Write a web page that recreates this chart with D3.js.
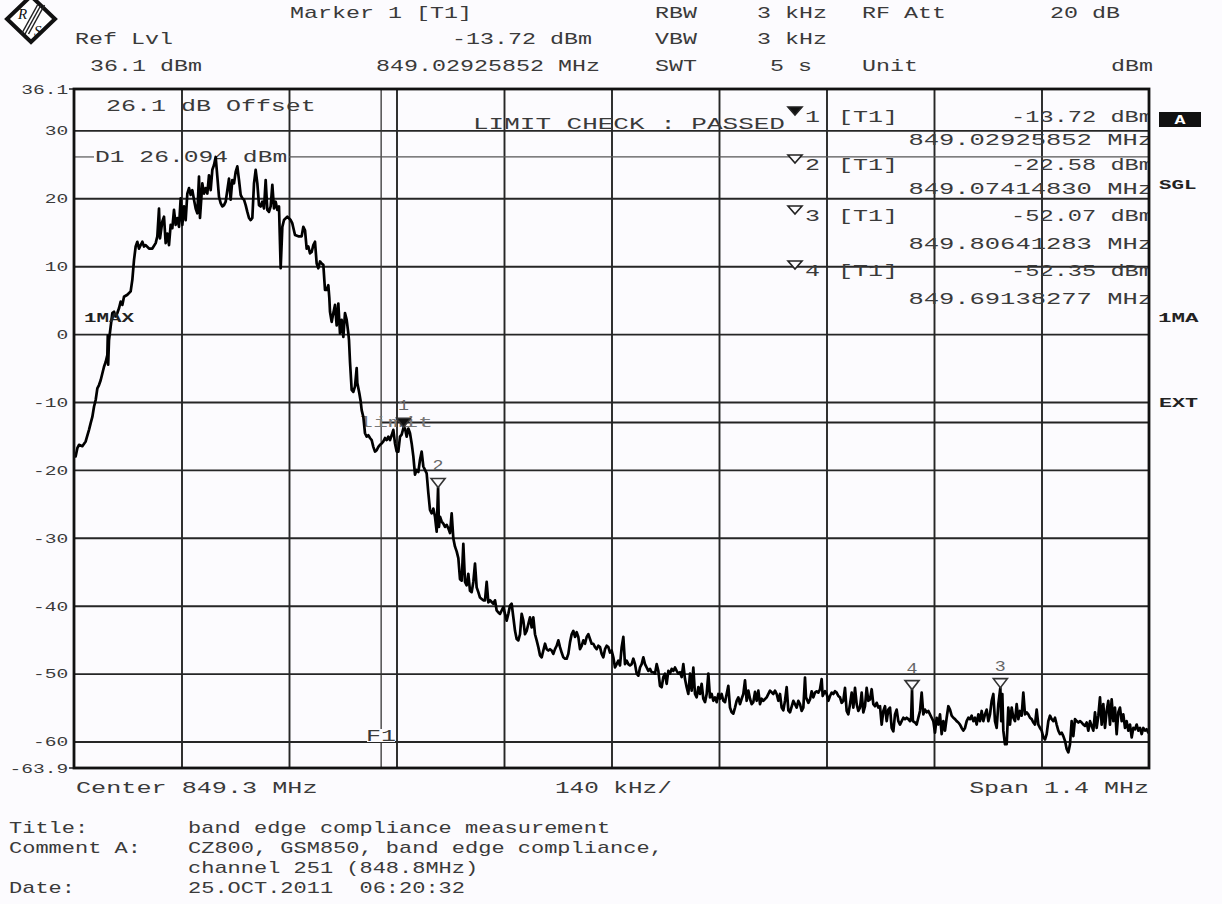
<!DOCTYPE html>
<html><head><meta charset="utf-8">
<script src="https://cdn.jsdelivr.net/npm/d3@7"></script>
<style>html,body{margin:0;padding:0;background:#fcfbfe;}svg{display:block;}text{white-space:pre;}</style>
</head><body><svg id="chart" width="1222" height="904"></svg>
<script>
// ---------- DATA ----------
const startMHz = 848.6, stopMHz = 850.0, centerMHz = 849.3;
const refLevelDbm = 36.1, bottomLevelDbm = -63.9;
const yTickValues = [30, 20, 10, 0, -10, -20, -30, -40, -50, -60];
const limitDbm = -13;
const displayLineDbm = 26.094;
const f1MHz = 849.0;
const markerIds = [1, 2, 3, 4];
const markerFreqMHz = [849.02925852, 849.07414830, 849.80641283, 849.69138277];
const markerLevelDbm = [-13.72, -22.58, -52.07, -52.35];
const markerFreqText = ["849.02925852 MHz", "849.07414830 MHz", "849.80641283 MHz", "849.69138277 MHz"];
const markerLevelText = ["-13.72 dBm", "-22.58 dBm", "-52.07 dBm", "-52.35 dBm"];
const headerRow1 = ["Marker 1 [T1]", "RBW", "3 kHz", "RF Att", "20 dB"];
const headerRow2 = ["Ref Lvl", "-13.72 dBm", "VBW", "3 kHz"];
const headerRow3 = ["36.1 dBm", "849.02925852 MHz", "SWT", "5 s", "Unit", "dBm"];
const footerLabels = ["Title:", "Comment A:", "", "Date:"];
const footerValues = ["band edge compliance measurement", "CZ800, GSM850, band edge compliance,", "channel 251 (848.8MHz)", "25.OCT.2011  06:20:32"];
const sideLabels = ["A", "SGL", "1MA", "EXT"];

// trace points [frequency MHz, level dBm]
const traceRise = [
[848.60000,-17.8],[848.60217,-18.0],[848.60434,-16.8],[848.60651,-16.3],[848.61085,-16.5],[848.61519,-15.8],[848.61953,-14.1],[848.62171,-13.1],[848.62388,-12.2],[848.62605,-10.7],
[848.62822,-9.7],[848.63039,-8.0],[848.63256,-7.5],[848.63473,-6.8],[848.63690,-5.8],[848.63907,-4.8],[848.64124,-4.1],[848.64341,-3.1],[848.64400,-0.2],[848.64450,-4.5],
[848.64558,-0.9],[848.64775,1.1],[848.64992,3.1],[848.65209,3.3],[848.65426,2.6],[848.65643,3.1],[848.65860,3.8],[848.66078,4.8],[848.66295,4.3],[848.66512,5.5],
[848.66946,5.8],[848.67380,6.3],[848.67597,8.0],[848.67814,10.9],[848.68031,12.9],[848.68248,13.6],[848.68465,12.6],[848.68682,13.1],[848.68899,13.6],[848.69116,12.9],
[848.69333,13.1],[848.69767,12.6],[848.70202,12.6],[848.70636,13.4],[848.70853,14.4],[848.71070,18.5],[848.71200,14.1],[848.71504,16.6],[848.71721,17.3],[848.71938,13.4],
[848.72155,14.8],[848.72372,13.1],[848.72589,16.1],[848.72806,15.6],[848.73023,18.3],[848.73240,16.1],[848.73457,17.1],[848.73674,15.8],[848.73892,20.0],[848.74109,16.1],
[848.74326,18.8],[848.74543,16.8],[848.74760,20.7],[848.74977,21.5],[848.75194,20.5],[848.75411,21.2],[848.75628,19.8],[848.75845,18.5],[848.76062,17.8],[848.76279,23.2],
[848.76409,17.1],[848.76713,22.2],[848.76930,20.7],[848.77147,21.5],[848.77364,20.7],[848.77581,23.4],[848.77799,21.2],[848.78016,24.2],[848.78233,24.9],[848.78450,26.09],
[848.78667,23.2],[848.78884,20.2],[848.79101,19.3],[848.79318,18.8],[848.79535,19.0],[848.79752,19.5],[848.79969,21.2],[848.80186,22.9],[848.80403,19.8],[848.80620,22.7],
[848.80837,22.2],[848.81054,23.9],[848.81271,24.7],[848.81488,22.7],[848.81706,20.5],[848.81923,20.0],[848.82140,19.8],[848.82357,19.0],[848.82574,18.0],[848.82791,17.1],
[848.83008,16.8],[848.83225,17.1],[848.83442,22.2],[848.83659,24.2],[848.83876,22.2],[848.84093,19.0],[848.84310,18.8],[848.84527,19.5],[848.84744,18.5],[848.84961,22.7],
[848.85178,18.3],[848.85395,18.0],[848.85612,18.8],[848.85830,22.0],[848.86047,18.5],[848.86264,19.5],[848.86481,18.3],[848.86698,18.8],[848.86915,9.7],[848.87132,15.8],
[848.87349,16.8],[848.87783,17.3],[848.88217,16.8],[848.88434,16.3]
];
const traceFall = [
[848.88782,14.6],[848.89216,14.4],[848.89650,14.4],[848.89867,15.8],[848.90084,15.3],[848.90301,12.6],[848.90518,12.9],[848.90735,11.9],[848.90952,12.1],[848.91169,13.1],
[848.91386,13.6],[848.91604,10.4],[848.91821,9.7],[848.92038,10.7],[848.92255,10.4],[848.92472,10.2],[848.92689,6.5],[848.92906,6.5],[848.93123,7.2],[848.93253,5.3],
[848.93340,3.3],[848.93557,1.8],[848.93774,3.1],[848.93991,4.3],[848.94208,1.3],[848.94425,4.5],[848.94642,0.1],[848.94859,2.1],[848.95076,-0.4],[848.95293,3.1],
[848.95511,2.1],[848.95728,0.1],[848.95815,-0.9],[848.95945,-4.1],[848.96162,-8.2],[848.96379,-8.5],[848.96596,-7.7],[848.96813,-5.0],[848.96900,-7.2],[848.97160,-8.7],
[848.97334,-9.9],[848.97464,-11.2],[848.97681,-12.2],[848.97898,-14.6],[848.98115,-15.1],[848.98332,-14.9],[848.98549,-15.3],[848.98766,-15.6],[848.98983,-16.6],[848.99200,-17.3],
[848.99418,-17.1],[848.99635,-16.6],[848.99852,-16.3],[849.00069,-16.1],[849.00286,-15.8],[849.00503,-15.3],[849.00720,-15.6],[849.00937,-15.1],[849.01154,-15.6],[849.01371,-14.9],
[849.01588,-14.1],[849.01805,-16.1],[849.02022,-17.3],[849.02239,-17.3],[849.02456,-15.1],[849.02673,-14.8],[849.02926,-13.72],[849.03107,-13.9],[849.03325,-15.1],[849.03542,-13.9],
[849.03759,-14.6],[849.03976,-16.1],[849.04193,-18.0],[849.04410,-20.7],[849.04627,-20.0],[849.04844,-20.3],[849.05061,-18.5],[849.05278,-17.3],[849.05495,-19.5],[849.05712,-20.0],
[849.05929,-20.5],[849.06146,-23.4],[849.06363,-25.9],[849.06580,-26.4],[849.06797,-25.7],[849.07014,-26.9],[849.07232,-29.1],[849.07415,-22.58],[849.07530,-28.4],[849.07666,-26.9],
[849.07883,-27.6],[849.08100,-27.9],[849.08317,-28.4],[849.08534,-28.1],[849.08751,-28.6],[849.08968,-29.3],[849.09185,-26.4],[849.09402,-30.1],[849.09619,-31.3],[849.09836,-32.0],
[849.10053,-33.0]
];
const traceSkirt = [
[849.10270,-36.1],[849.10487,-36.3],[849.10704,-30.9],[849.10921,-36.5],[849.11138,-37.0],[849.11355,-35.3],[849.11572,-37.8],[849.11789,-38.0],[849.12006,-36.5],[849.12223,-33.8],
[849.12440,-37.3],[849.12657,-38.0],[849.12874,-38.8],[849.13091,-39.0],[849.13308,-39.2],[849.13525,-39.2],[849.13743,-36.5],[849.13960,-39.5],[849.14177,-39.2],[849.14611,-39.7],
[849.14828,-39.2],[849.15045,-40.7],[849.15262,-41.0],[849.15479,-41.2],[849.15696,-40.7],[849.15913,-40.2],[849.16130,-41.2],[849.16347,-42.2],[849.16564,-41.2],[849.16781,-40.0],
[849.16998,-39.7],[849.17215,-41.7],[849.17433,-43.7],[849.17650,-44.9],[849.17867,-45.1],[849.18084,-44.2],[849.18301,-41.2],[849.18518,-42.2],[849.18735,-44.2],[849.18952,-43.7],
[849.19169,-42.7],[849.19386,-41.7],[849.19603,-43.2],[849.19820,-41.7],[849.20037,-44.2],[849.20254,-45.1],[849.20471,-46.1],[849.20688,-47.3],[849.20905,-47.6],[849.21122,-46.6],
[849.21340,-45.6],[849.21557,-46.4],[849.21774,-46.6],[849.21991,-46.4],[849.22208,-46.6],[849.22425,-47.1],[849.22642,-46.4],[849.22859,-45.9],[849.23076,-45.1],[849.23293,-46.1],
[849.23510,-46.9],[849.23727,-47.6],[849.23944,-47.8],[849.24161,-47.8],[849.24378,-47.1],[849.24595,-45.4],[849.24812,-44.2],[849.25029,-43.7],[849.25247,-44.6],[849.25464,-43.9],
[849.25681,-44.6],[849.25898,-46.4],[849.26115,-45.9],[849.26332,-45.1],[849.26549,-45.6],[849.26766,-44.6],[849.26983,-44.2],[849.27200,-44.9],[849.27417,-45.6],[849.27634,-45.6],
[849.27851,-46.1],[849.28068,-46.4],[849.28285,-45.9],[849.28502,-46.1],[849.28719,-47.1],[849.28936,-47.6],[849.29154,-46.4],[849.29371,-45.9],[849.29588,-46.1],[849.29805,-46.9],
[849.30022,-46.6],[849.30239,-47.6],[849.30456,-49.1],[849.30673,-48.6],[849.30890,-48.1],[849.31107,-48.8],[849.31324,-46.1],[849.31541,-44.6],[849.31758,-48.6],[849.31975,-48.1],
[849.32192,-48.6],[849.32409,-48.8],[849.32626,-48.6],[849.32843,-47.8],[849.33061,-48.6],[849.33278,-50.0],[849.33495,-50.3],[849.33712,-49.1],[849.33929,-48.6],[849.34146,-47.6],
[849.34363,-48.6],[849.34580,-49.1],[849.34797,-49.6],[849.35014,-49.3],[849.35231,-49.8],[849.35448,-49.8],[849.35665,-50.0],[849.35882,-48.6],[849.36099,-49.6],[849.36316,-51.8],
[849.36533,-52.0],[849.36750,-50.5],[849.36968,-50.0],[849.37185,-51.5],[849.37402,-49.6],[849.37619,-50.0],[849.37836,-49.3],[849.38053,-49.6],[849.38270,-49.1],[849.38487,-49.6],
[849.38704,-50.0],[849.38921,-49.8],[849.39138,-50.5],[849.39355,-48.6],[849.39572,-50.8],[849.39789,-52.0],[849.40006,-53.0],[849.40223,-50.0],[849.40440,-52.5],[849.40657,-49.1],
[849.40875,-53.0],[849.41092,-53.5],[849.41309,-52.0],[849.41526,-53.0],[849.41743,-51.5],[849.41960,-53.7],[849.42177,-54.2],[849.42394,-53.0],[849.42611,-50.0],[849.42828,-53.5],
[849.43045,-53.0],[849.43262,-54.0],[849.43479,-53.5],[849.43696,-54.2],[849.43913,-53.0],[849.44130,-53.7],[849.44347,-53.0],[849.44564,-54.0],[849.44782,-54.2],[849.44999,-53.0],
[849.45216,-51.8],[849.45433,-55.0],[849.45650,-55.7],[849.45867,-55.9],[849.46084,-55.0],[849.46301,-54.0],[849.46518,-53.5],[849.46735,-54.5],[849.46952,-53.7],[849.47169,-53.0],
[849.47386,-51.0],[849.47603,-54.0],[849.47820,-52.5],[849.48037,-53.7],[849.48254,-54.5],[849.48471,-54.2],[849.48689,-52.7],[849.48906,-54.0],[849.49123,-52.5],[849.49340,-54.5],
[849.49557,-53.7],[849.49774,-54.0],[849.50208,-53.5],[849.50642,-52.5],[849.51076,-53.0],[849.51293,-52.5],[849.51510,-53.0],[849.51727,-54.0],[849.51944,-53.0],[849.52161,-55.0],
[849.52378,-55.4],[849.52596,-54.0],[849.52813,-52.0],[849.53030,-55.4],[849.53247,-55.7],[849.53681,-54.0],[849.54115,-55.0]
];
const traceFloor = [
[849.54332,-54.0],[849.54549,-54.5],[849.54766,-55.5],[849.54983,-55.0],[849.55200,-50.6],[849.55330,-53.5],[849.55634,-54.3],[849.55851,-53.8],[849.56068,-52.6],[849.56285,-53.5],
[849.56502,-52.8],[849.56719,-52.6],[849.56937,-52.8],[849.57154,-52.3],[849.57371,-50.8],[849.57501,-53.3],[849.57805,-52.6],[849.58022,-53.0],[849.58240,-54.0],[849.58456,-53.3],
[849.58673,-52.8],[849.58890,-53.0],[849.59107,-52.6],[849.59324,-52.8],[849.59541,-53.3],[849.59758,-53.5],[849.59975,-54.3],[849.60192,-54.0],[849.60409,-52.1],[849.60626,-55.5],
[849.60843,-56.0],[849.61060,-54.5],[849.61278,-52.8],[849.61495,-55.0],[849.61712,-52.1],[849.61929,-54.5],[849.62146,-55.5],[849.62363,-55.0],[849.62580,-52.8],[849.62797,-55.7],
[849.63014,-54.8],[849.63231,-52.1],[849.63448,-54.0],[849.63665,-53.8],[849.63882,-52.3],[849.64099,-54.5],[849.64316,-54.8],[849.64533,-54.3],[849.64750,-55.0],[849.64967,-54.8],
[849.65185,-57.5],[849.65402,-55.5],[849.65619,-54.8],[849.65836,-57.0],[849.66053,-55.3],[849.66270,-55.0],[849.66487,-58.0],[849.66704,-58.5],[849.66921,-56.0],[849.67138,-55.3],
[849.67355,-57.0],[849.67572,-57.5],[849.67789,-57.0],[849.68006,-56.5],[849.68223,-56.7],[849.68440,-56.5],[849.68657,-56.7],[849.68874,-57.0],[849.69020,-56.5],[849.69138,-52.35],
[849.69250,-57.0],[849.69526,-57.2],[849.69743,-57.5],[849.69960,-56.5],[849.70177,-55.5],[849.70394,-52.8],[849.70611,-56.0],[849.70828,-55.3],[849.71045,-55.7],[849.71262,-55.5],
[849.71479,-56.0],[849.71696,-56.5],[849.71913,-57.0],[849.72130,-58.7],[849.72347,-56.5],[849.72564,-57.5],[849.72781,-56.0],[849.72998,-58.9],[849.73215,-57.0],[849.73432,-58.4],
[849.73649,-56.5],[849.73867,-54.8],[849.74084,-55.3],[849.74301,-56.2],[849.74518,-56.5],[849.74735,-56.7],[849.74952,-57.0],[849.75169,-57.2],[849.75386,-57.5],[849.75603,-58.0],
[849.75820,-58.4],[849.76037,-58.0],[849.76254,-57.0],[849.76471,-56.5],[849.76688,-56.7],[849.76905,-56.2],[849.77122,-57.0],[849.77339,-56.5],[849.77556,-57.5],[849.77773,-56.0],
[849.77990,-57.0],[849.78207,-55.5],[849.78424,-57.0],[849.78642,-56.0],[849.78859,-55.3],[849.79076,-57.0],[849.79293,-56.0],[849.79510,-54.0],[849.79727,-53.0],[849.79944,-57.0],
[849.80161,-58.0],[849.80378,-54.5],[849.80641,-52.07],[849.80760,-57.0],[849.80900,-53.0],[849.81029,-58.4],[849.81246,-60.4],[849.81463,-60.4],[849.81680,-55.0],[849.81897,-57.5],
[849.82114,-55.0],[849.82331,-56.5],[849.82548,-57.0],[849.82765,-54.5],[849.82982,-56.7],[849.83199,-55.5],[849.83416,-56.2],[849.83633,-52.8],[849.83850,-56.0],[849.84067,-55.7],
[849.84284,-56.0],[849.84502,-56.5],[849.84719,-56.7],[849.84936,-57.2],[849.85153,-57.5],[849.85370,-55.3],[849.85587,-57.5],[849.85804,-58.0],[849.86021,-58.4],[849.86238,-59.4],
[849.86455,-59.7],[849.86672,-58.9],[849.86889,-57.0],[849.87106,-56.2],[849.87323,-56.7],[849.87540,-57.0],[849.87757,-56.5],[849.87974,-57.5],[849.88191,-58.4],[849.88409,-58.9],
[849.88626,-58.7],[849.88843,-59.2],[849.89060,-59.9],[849.89277,-61.1],[849.89494,-61.6],[849.89711,-60.4],[849.89928,-57.0],[849.90145,-59.2],[849.90362,-56.7],[849.90579,-57.0],
[849.90796,-57.2],[849.91013,-57.0],[849.91230,-57.2],[849.91447,-57.5],[849.91664,-57.7],[849.91881,-57.2],[849.92098,-58.4],[849.92316,-57.0],[849.92533,-57.7],[849.92750,-58.4],
[849.92967,-55.7],[849.93184,-58.0],[849.93401,-56.2],[849.93618,-53.5],[849.93835,-57.5],[849.94052,-54.5],[849.94269,-58.0],[849.94486,-55.5],[849.94703,-54.0],[849.94920,-57.5],
[849.95137,-53.8],[849.95354,-57.0],[849.95571,-55.0],[849.95788,-58.9],[849.96005,-55.7],[849.96223,-55.0],[849.96440,-57.0],[849.96657,-56.0],[849.96874,-58.0],[849.97091,-57.0],
[849.97308,-58.4],[849.97525,-57.5],[849.97742,-59.4],[849.97959,-58.0],[849.98176,-58.2],[849.98393,-57.5],[849.98610,-58.4],[849.98827,-58.0],[849.99044,-58.9],[849.99261,-58.0],
[849.99478,-58.4],[849.99695,-58.2],[849.99912,-58.7],[850.00000,-58.4]
];

// ---------- LAYOUT ----------
const W = 1222, H = 904;
const P = {left: 74, right: 1149, top: 89, bottom: 768};
const BG = "#fcfbfe";
const INK = "#3a3a3a";
const FONT = "'Liberation Mono','Courier New',monospace";

const svg = d3.select("#chart");
svg.append("rect").attr("width", W).attr("height", H).attr("fill", BG);

const x = d3.scaleLinear().domain([startMHz, stopMHz]).range([P.left, P.right]);
const y = d3.scaleLinear().domain([bottomLevelDbm, refLevelDbm]).range([P.bottom, P.top]);

svg.append("defs").append("clipPath").attr("id", "plotClip")
  .append("rect").attr("x", P.left).attr("y", P.top)
  .attr("width", P.right - P.left).attr("height", P.bottom - P.top);

// text helper: adv = horizontal advance per character in px
function txt(parent, s, tx, ty, o = {}) {
  const size = o.size || 16;
  const adv = o.adv || 15;
  const sx = adv / (0.6 * size);
  return parent.append("text")
    .attr("transform", `translate(${tx},${ty}) scale(${sx},1)`)
    .attr("xml:space", "preserve")
    .attr("font-family", o.family || FONT)
    .attr("font-size", size)
    .attr("font-weight", o.weight || "normal")
    .attr("fill", o.fill || INK)
    .attr("text-anchor", o.anchor || "start")
    .attr("dy", "0.36em")
    .text(s);
}

// ---------- HEADER ----------
const logo = svg.append("g").attr("transform", "translate(31,19)");
logo.append("path").attr("d", "M0,-23L24,0L0,23L-24,0Z").attr("fill", "#fff").attr("stroke", "#111").attr("stroke-width", 4);
[-3.5, 0, 3.5].forEach(o => logo.append("line")
  .attr("x1", 10 + o).attr("y1", -14).attr("x2", -6 + o).attr("y2", 15)
  .attr("stroke", "#222").attr("stroke-width", 1.5));
logo.append("text").attr("x", -13).attr("y", 0).attr("font-family", "'Liberation Serif',serif").attr("font-style", "italic").attr("font-size", 15).attr("fill", "#111").text("R");
logo.append("text").attr("x", 3).attr("y", 17).attr("font-family", "'Liberation Serif',serif").attr("font-style", "italic").attr("font-size", 15).attr("fill", "#111").text("S");

const hdr = svg.append("g");
const HA = 14;
const hx1 = [290, 655, 757, 862, 1050];
headerRow1.forEach((s, i) => txt(hdr, s, hx1[i], 12, {adv: HA}));
txt(hdr, headerRow2[0], 75, 38, {adv: HA});
txt(hdr, headerRow2[1], 592, 38, {anchor: "end", adv: HA});
txt(hdr, headerRow2[2], 655, 38, {adv: HA});
txt(hdr, headerRow2[3], 757, 38, {adv: HA});
txt(hdr, headerRow3[0], 90, 65, {adv: HA});
txt(hdr, headerRow3[1], 600, 65, {anchor: "end", adv: HA});
txt(hdr, headerRow3[2], 655, 65, {adv: HA});
txt(hdr, headerRow3[3], 770, 65, {adv: HA});
txt(hdr, headerRow3[4], 862, 65, {adv: HA});
txt(hdr, headerRow3[5], 1153, 65, {anchor: "end", adv: HA});

// ---------- GRID ----------
const divFreqs = d3.range(1, 10).map(i => startMHz + i * (stopMHz - startMHz) / 10);
svg.append("g").attr("transform", `translate(0,${P.bottom})`)
  .call(d3.axisBottom(x).tickValues(divFreqs).tickSize(-(P.bottom - P.top)).tickFormat(""))
  .call(g => g.select(".domain").remove())
  .call(g => g.selectAll("line").attr("stroke", "#262626").attr("stroke-width", 1.9));
svg.append("g").attr("transform", `translate(${P.left},0)`)
  .call(d3.axisLeft(y).tickValues(yTickValues).tickSize(-(P.right - P.left)).tickFormat(""))
  .call(g => g.select(".domain").remove())
  .call(g => g.selectAll("line").attr("stroke", "#262626").attr("stroke-width", 1.9));

// y labels
svg.append("g").attr("transform", `translate(${P.left},0)`)
  .call(d3.axisLeft(y).tickValues([refLevelDbm, ...yTickValues, bottomLevelDbm]).tickSize(0).tickPadding(4).tickFormat(d => String(d)))
  .call(g => g.select(".domain").remove())
  .call(g => g.selectAll("text")
    .attr("font-family", FONT).attr("font-size", 13.5).attr("fill", INK)
    .attr("transform", "scale(1.45,1)"));
[P.top, P.bottom].forEach(yy => svg.append("line").attr("x1", 69).attr("x2", P.left).attr("y1", yy).attr("y2", yy).attr("stroke", "#222").attr("stroke-width", 1.5));

// ---------- LINES: F1, limit, display line ----------
const xF1 = x(f1MHz);
svg.append("line").attr("x1", xF1).attr("x2", xF1).attr("y1", P.top).attr("y2", P.bottom).attr("stroke", "#333").attr("stroke-width", 1.3);
svg.append("line").attr("x1", xF1).attr("x2", P.right).attr("y1", y(limitDbm)).attr("y2", y(limitDbm)).attr("stroke", "#222").attr("stroke-width", 2);
const yD1 = y(displayLineDbm);
svg.append("line").attr("x1", P.left).attr("x2", 94).attr("y1", yD1).attr("y2", yD1).attr("stroke", "#555").attr("stroke-width", 1.2);
svg.append("line").attr("x1", 289).attr("x2", P.right).attr("y1", yD1).attr("y2", yD1).attr("stroke", "#555").attr("stroke-width", 1.2);

// ---------- ANNOTATIONS inside plot ----------
const ann = svg.append("g").attr("clip-path", "url(#plotClip)");
txt(ann, "26.1 dB Offset", 106, 105);
txt(ann, "D1 26.094 dBm", 95, 156, {adv: 14.8});
txt(ann, "LIMIT CHECK : PASSED", 473, 123, {adv: 15.6});
txt(ann, "limit", 358, 422, {fill: "#777", size: 14, adv: 15});
ann.append("rect").attr("x", 367).attr("y", 729).attr("width", 28).attr("height", 13).attr("fill", BG);
txt(ann, "F1", 366, 735);

// marker table
const levelRowY = [116, 164, 215, 270];
const freqRowY = [139, 188, 243, 298];
markerIds.forEach((id, i) => {
  const ty = levelRowY[i];
  ann.append("path").attr("d", `M788,${ty - 9}L802,${ty - 9}L795,${ty - 1}Z`)
    .attr("fill", i === 0 ? "#111" : BG).attr("stroke", "#222").attr("stroke-width", 1.6);
  txt(ann, String(id), 805, ty);
  txt(ann, "[T1]", 838, ty);
  txt(ann, markerLevelText[i], 1153, ty, {anchor: "end", adv: 14.2});
  txt(ann, markerFreqText[i], 1153, freqRowY[i], {anchor: "end", adv: 15.3});
});

// ---------- TRACE ----------
const trace = [...traceRise, ...traceFall, ...traceSkirt, ...traceFloor];
svg.append("path").datum(trace).attr("clip-path", "url(#plotClip)")
  .attr("fill", "none").attr("stroke", "#000").attr("stroke-width", 2.7).attr("stroke-linejoin", "round")
  .attr("d", d3.line().x(d => x(d[0])).y(d => y(d[1])));

txt(svg, "1MAX", 84, 318, {size: 12, weight: "bold", adv: 12.5, fill: "#222"});

// markers on trace
markerIds.forEach((id, i) => {
  const mx = x(markerFreqMHz[i]), my = y(markerLevelDbm[i]);
  svg.append("path").attr("d", `M${mx - 7},${my - 9}L${mx + 7},${my - 9}L${mx},${my}Z`)
    .attr("fill", i === 0 ? "#111" : BG).attr("stroke", "#333").attr("stroke-width", 1.6);
  txt(svg, String(id), mx, my - 22, {anchor: "middle", size: 14, adv: 11, fill: "#666"});
});

// ---------- FRAME ----------
svg.append("rect").attr("x", P.left).attr("y", P.top).attr("width", P.right - P.left).attr("height", P.bottom - P.top)
  .attr("fill", "none").attr("stroke", "#111").attr("stroke-width", 2.8);

// ---------- SIDE LABELS ----------
svg.append("rect").attr("x", 1159).attr("y", 112).attr("width", 42).attr("height", 15).attr("fill", "#111");
txt(svg, sideLabels[0], 1180, 119.5, {anchor: "middle", size: 12, weight: "bold", adv: 11, fill: "#fff"});
txt(svg, sideLabels[1], 1159, 185, {size: 12, weight: "bold", adv: 12.5, fill: "#222"});
txt(svg, sideLabels[2], 1158, 318, {size: 12, weight: "bold", adv: 13.5, fill: "#222"});
txt(svg, sideLabels[3], 1159, 403, {size: 12, weight: "bold", adv: 13, fill: "#222"});

// ---------- FOOTER ----------
txt(svg, "Center " + centerMHz + " MHz", 76, 787, {adv: 15.1});
txt(svg, "140 kHz/", 555, 787, {adv: 14.6});
txt(svg, "Span " + (stopMHz - startMHz).toFixed(1) + " MHz", 1149, 787, {anchor: "end", adv: 15});
const footY = [827, 847, 867, 887];
const FA = 13.2;
footerLabels.forEach((s, i) => { if (s) txt(svg, s, 9, footY[i], {adv: FA}); });
footerValues.forEach((s, i) => txt(svg, s, 188, footY[i], {adv: FA}));
</script>
</body></html>
